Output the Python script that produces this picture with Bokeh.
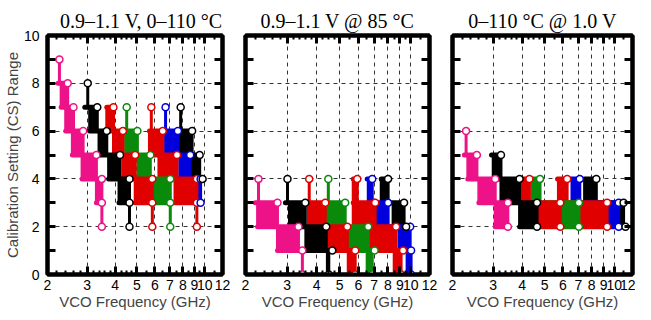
from bokeh.plotting import figure
from bokeh.layouts import row
from bokeh.models import Range1d, FixedTicker, LogAxis, LinearAxis, CustomJSTickFormatter
from bokeh.embed import file_html
from bokeh.resources import INLINE

PINK = "#EE1289"
RED = "#E00000"
GREEN = "#0A8A0A"
BLUE = "#0000DD"
BLACK = "#000000"

TITLES = ["0.9\u20131.1 V, 0\u2013110 \u00b0C", "0.9\u20131.1 V @ 85 \u00b0C", "0\u2013110 \u00b0C @ 1.0 V"]
X_LABEL = "VCO Frequency (GHz)"
Y_LABEL = "Calibration Setting (CS) Range"
X_TICKS = [2, 3, 4, 5, 6, 7, 8, 9, 10, 12]
X_TICK_LABELS = ["2", "3", "4", "5", "6", "7", "8", "9", "10", "12"]
X_MINOR = [2.2, 2.4, 2.6, 2.8, 3.2, 3.4, 3.6, 3.8, 4.25, 4.5, 4.75, 5.5, 6.5, 7.5, 8.5, 9.5, 11]
X_GRID = [3, 4, 5, 6, 7, 8, 9, 10]
Y_TICKS = [0, 2, 4, 6, 8, 10]
Y_MINOR = [1, 3, 5, 7, 9]
Y_GRID = [2, 4, 6, 8]

# ---- panel 1: 0.9-1.1 V, 0-110 C  (each band: CS levels from top downwards, freq range in GHz)
P1_COLORS = [PINK, BLACK, RED, GREEN, RED, BLUE, BLACK]
P1_TOP = [9, 8, 7, 7, 7, 7, 7]
P1_LO = [
    [2.26, 2.23, 2.30, 2.41, 2.58, 2.85, 3.30, 3.49],
    [3.02, 2.93, 3.08, 3.39, 3.74, 4.16, 4.63],
    [3.67, 3.67, 3.93, 4.33, 4.91, 5.85],
    [4.50, 4.45, 4.45, 5.05, 5.90, 7.03],
    [5.79, 5.68, 5.68, 6.26, 7.38, 9.23],
    [6.70, 6.51, 6.70, 7.75, 9.41],
    [7.82, 7.60, 7.60, 8.79],
]
P1_HI = [
    [2.26, 2.46, 2.61, 2.88, 3.30, 3.49, 3.49, 3.49],
    [3.02, 3.33, 3.67, 4.20, 4.63, 4.63, 4.63],
    [3.93, 4.33, 4.91, 5.85, 5.85, 5.85],
    [4.50, 5.02, 5.73, 7.03, 7.03, 7.03],
    [5.79, 6.51, 7.53, 9.23, 9.23, 9.23],
    [6.70, 7.60, 8.62, 9.59, 9.59],
    [7.82, 8.79, 9.50, 9.79],
]

# ---- panel 2: 0.9-1.1 V @ 85 C
P2_COLORS = [PINK, BLACK, RED, GREEN, RED, BLUE, BLACK]
P2_TOP = [4, 4, 4, 4, 4, 4, 4]
P2_LO = [
    [2.27, 2.20, 2.25, 2.73, 3.48],
    [3.01, 2.95, 3.07, 3.60, 4.44],
    [3.72, 3.69, 3.69, 4.48, 5.44],
    [4.48, 4.39, 4.44, 5.49, 6.54],
    [5.71, 5.71, 5.71, 6.67, 8.51],
    [6.54, 6.61, 7.00, 8.93, 9.65],
    [7.50, 7.50, 8.42],
]
P2_HI = [
    [2.27, 2.73, 3.35, 3.48, 3.48],
    [3.01, 3.58, 4.39, 4.66, 4.50],
    [3.72, 4.35, 5.39, 5.82, 5.82],
    [4.48, 5.28, 6.61, 7.03, 6.87],
    [5.94, 7.07, 8.67, 9.28, 9.10],
    [6.87, 8.02, 9.94, 10.03, 10.03],
    [8.02, 9.37, 9.56],
]

# ---- panel 3: 0-110 C @ 1.0 V
P3_COLORS = [PINK, BLACK, RED, GREEN, RED, BLUE, BLACK]
P3_TOP = [6, 5, 4, 4, 4, 4, 4]
P3_LO = [
    [2.29, 2.25, 2.33, 2.60, 3.06],
    [2.95, 3.00, 3.24, 3.90],
    [3.94, 3.94, 4.69],
    [4.38, 4.42, 5.91],
    [5.69, 5.74, 7.04],
    [6.45, 6.57, 9.41],
    [7.45, 7.45, 10.56],
]
P3_HI = [
    [2.29, 2.55, 3.06, 3.47, 3.47],
    [3.24, 3.90, 4.64, 4.64],
    [4.30, 5.85, 5.85],
    [4.78, 7.04, 7.04],
    [6.26, 9.32, 9.32],
    [7.10, 10.46, 10.46],
    [8.37, 10.98, 11.19],
]

FONT = "Liberation Sans"
SERIF = "Liberation Serif"


def style_axis(ax, ticker, minor_len, minor_w):
    ax.ticker = ticker
    ax.axis_line_width = 4
    ax.axis_line_color = "black"
    ax.major_tick_in = 8
    ax.major_tick_out = 0
    ax.major_tick_line_width = 3
    ax.minor_tick_in = minor_len
    ax.minor_tick_out = 0
    ax.minor_tick_line_width = minor_w
    ax.major_label_text_font = FONT
    ax.major_label_text_font_size = "14px"
    ax.major_label_text_color = "black"


def blank(ax):
    ax.formatter = CustomJSTickFormatter(code="return ''")
    ax.major_label_standoff = 0


def panel(colors, tops, los, his, title, width, left, right, first):
    p = figure(width=width, height=312, x_axis_type="log",
               x_range=Range1d(2, 12), y_range=Range1d(0, 10),
               output_backend="svg", toolbar_location=None,
               min_border_left=left, min_border_right=right,
               min_border_top=35, min_border_bottom=37)
    p.outline_line_color = "black"
    p.outline_line_width = 4
    p.background_fill_color = "white"
    p.border_fill_color = "white"

    p.title.text = title
    p.title.align = "right" if first else "center"
    p.title.text_font = SERIF
    p.title.text_font_size = "20px"
    p.title.text_font_style = "normal"
    p.title.text_color = "black"
    p.title.standoff = 7

    xt = FixedTicker(ticks=X_TICKS, minor_ticks=X_MINOR)
    yt = FixedTicker(ticks=Y_TICKS, minor_ticks=Y_MINOR)

    xa = p.xaxis[0]
    style_axis(xa, xt, 4, 2)
    xa.major_label_overrides = {t: s for t, s in zip(X_TICKS, X_TICK_LABELS)}
    xa.major_label_standoff = 5
    xa.axis_label = X_LABEL
    xa.axis_label_text_font = FONT
    xa.axis_label_text_font_size = "15px"
    xa.axis_label_text_font_style = "normal"
    xa.axis_label_standoff = 0

    ya = p.yaxis[0]
    style_axis(ya, yt, 8, 3)
    if first:
        ya.major_label_standoff = 8
        ya.axis_label = Y_LABEL
        ya.axis_label_text_font = FONT
        ya.axis_label_text_font_size = "15px"
        ya.axis_label_text_font_style = "normal"
        ya.axis_label_standoff = 0
    else:
        blank(ya)

    top_ax = LogAxis()
    style_axis(top_ax, FixedTicker(ticks=X_TICKS, minor_ticks=X_MINOR), 4, 2)
    blank(top_ax)
    p.add_layout(top_ax, "above")
    right_ax = LinearAxis()
    style_axis(right_ax, FixedTicker(ticks=Y_TICKS, minor_ticks=Y_MINOR), 8, 3)
    blank(right_ax)
    p.add_layout(right_ax, "right")

    p.xgrid.ticker = FixedTicker(ticks=X_GRID)
    p.ygrid.ticker = FixedTicker(ticks=Y_GRID)
    for g in (p.xgrid[0], p.ygrid[0]):
        g.grid_line_color = "#333333"
        g.grid_line_dash = "4 4"
        g.grid_line_width = 1

    # draw right-most bands first so that left bands sit on top
    for k in reversed(range(len(colors))):
        c = colors[k]
        lo, hi = los[k], his[k]
        cs = [tops[k] - i for i in range(len(lo))]
        ql, qr, qt, qb = [], [], [], []
        for i in range(len(lo) - 1):
            ql.append(max(lo[i], lo[i + 1]))
            qr.append(min(hi[i], hi[i + 1]))
            qt.append(cs[i])
            qb.append(cs[i + 1])
        p.quad(left=ql, right=qr, top=qt, bottom=qb, fill_color=c,
               line_color=c, line_width=3)
        p.segment(x0=lo, y0=cs, x1=hi, y1=cs, line_color=c,
                  line_width=5, line_cap="round")
    for k in range(len(colors)):
        c = colors[k]
        cs = [tops[k] - i for i in range(len(his[k]))]
        p.scatter(x=his[k], y=cs, marker="circle", size=7,
                  fill_color="white", line_color=c, line_width=1.5)
    return p


p1 = panel(P1_COLORS, P1_TOP, P1_LO, P1_HI, TITLES[0], 233, 38, 11, True)
p2 = panel(P2_COLORS, P2_TOP, P2_LO, P2_HI, TITLES[1], 207, 12, 11, False)
p3 = panel(P3_COLORS, P3_TOP, P3_LO, P3_HI, TITLES[2], 195, 12, 3, False)

layout = row(p1, p2, p3)
open("out.html", "w").write(file_html(layout, INLINE))
